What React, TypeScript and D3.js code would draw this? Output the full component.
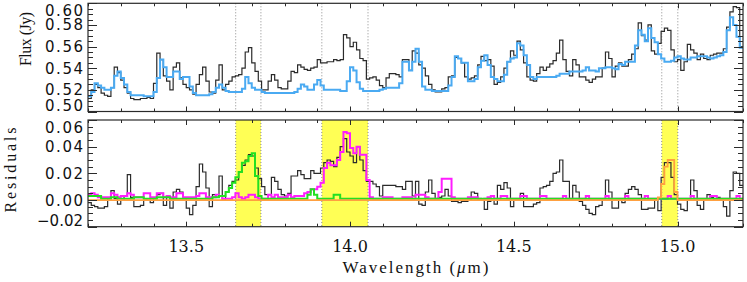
import React from 'react';
import * as d3 from 'd3';

// ---------- data ----------
const BIN_START = 13.2; // μm, left edge of first bin
const BIN_WIDTH = 0.01; // μm
const X_DOMAIN: [number, number] = [13.2, 15.2];
const FLUX_DOMAIN: [number, number] = [0.5, 0.6];
const RES_DOMAIN: [number, number] = [-0.02, 0.06];

const X_TICKS = [13.5, 14.0, 14.5, 15.0];
const X_TICK_LABELS = ['13.5', '14.0', '14.5', '15.0'];
const FLUX_TICKS = [0.5, 0.52, 0.54, 0.56, 0.58, 0.6];
const FLUX_TICK_LABELS = ['0.50', '0.52', '0.54', '0.56', '0.58', '0.60'];
const RES_TICKS = [-0.02, 0, 0.02, 0.04, 0.06];
const RES_TICK_LABELS = ['\u22120.02', '0.00', '0.02', '0.04', '0.06'];

// spectral windows (μm)
const WINDOWS: [number, number][] = [
  [13.651, 13.728],
  [13.914, 14.055],
  [14.952, 15.001],
];

// observed flux (Jy), black histogram
const observedFlux = [
  0.512, 0.520, 0.525, 0.522, 0.517, 0.515, 0.514, 0.522, 0.541, 0.536,
  0.529, 0.522, 0.517, 0.512, 0.511, 0.511, 0.512, 0.512, 0.513, 0.512,
  0.526, 0.554, 0.548, 0.533, 0.528, 0.520, 0.541, 0.545, 0.531, 0.525,
  0.522, 0.520, 0.516, 0.525, 0.534, 0.541, 0.528, 0.518, 0.517, 0.529,
  0.543, 0.520, 0.525, 0.528, 0.532, 0.533, 0.534, 0.540, 0.555, 0.559,
  0.545, 0.537, 0.528, 0.520, 0.520, 0.528, 0.534, 0.529, 0.522, 0.521,
  0.521, 0.528, 0.537, 0.536, 0.543, 0.541, 0.539, 0.538, 0.540, 0.541,
  0.548, 0.545, 0.545, 0.546, 0.546, 0.548, 0.547, 0.548, 0.571, 0.568,
  0.560, 0.564, 0.557, 0.549, 0.547, 0.530, 0.531, 0.532, 0.529, 0.524,
  0.522, 0.531, 0.535, 0.535, 0.534, 0.532, 0.548, 0.548, 0.538, 0.556,
  0.554, 0.543, 0.540, 0.533, 0.525, 0.520, 0.518, 0.518, 0.521, 0.522,
  0.532, 0.533, 0.550, 0.549, 0.545, 0.532, 0.530, 0.531, 0.533, 0.543,
  0.551, 0.547, 0.548, 0.542, 0.525, 0.527, 0.532, 0.540, 0.546, 0.556,
  0.552, 0.565, 0.557, 0.545, 0.532, 0.529, 0.528, 0.535, 0.541, 0.538,
  0.541, 0.544, 0.547, 0.554, 0.566, 0.548, 0.537, 0.533, 0.548, 0.543,
  0.532, 0.532, 0.529, 0.527, 0.530, 0.532, 0.532, 0.540, 0.555, 0.549,
  0.532, 0.542, 0.545, 0.542, 0.542, 0.548, 0.553, 0.558, 0.582, 0.570,
  0.566, 0.580, 0.556, 0.553, 0.563, 0.574, 0.577, 0.575, 0.557, 0.546,
  0.548, 0.538, 0.546, 0.562, 0.557, 0.554, 0.548, 0.553, 0.549, 0.548,
  0.552, 0.553, 0.554, 0.554, 0.558, 0.578, 0.592, 0.597, 0.596, 0.560,
];

// model flux (Jy), blue histogram
const modelFlux = [
  0.514, 0.518, 0.526, 0.524, 0.522, 0.520, 0.520, 0.522, 0.533, 0.537,
  0.531, 0.525, 0.518, 0.515, 0.515, 0.515, 0.515, 0.514, 0.514, 0.514,
  0.518, 0.531, 0.548, 0.541, 0.532, 0.532, 0.537, 0.537, 0.530, 0.532,
  0.532, 0.523, 0.517, 0.515, 0.515, 0.515, 0.515, 0.516, 0.518, 0.522,
  0.525, 0.522, 0.519, 0.518, 0.518, 0.518, 0.518, 0.521, 0.532, 0.526,
  0.522, 0.520, 0.520, 0.518, 0.517, 0.517, 0.517, 0.517, 0.517, 0.517,
  0.517, 0.517, 0.517, 0.518, 0.521, 0.525, 0.523, 0.520, 0.520, 0.525,
  0.529, 0.524, 0.520, 0.520, 0.520, 0.520, 0.520, 0.519, 0.519, 0.528,
  0.541, 0.538, 0.527, 0.521, 0.519, 0.519, 0.519, 0.519, 0.519, 0.520,
  0.521, 0.522, 0.522, 0.522, 0.522, 0.526, 0.546, 0.546, 0.538, 0.546,
  0.558, 0.546, 0.523, 0.520, 0.520, 0.519, 0.519, 0.519, 0.519, 0.519,
  0.524, 0.532, 0.551, 0.549, 0.545, 0.545, 0.528, 0.528, 0.530, 0.541,
  0.547, 0.552, 0.543, 0.532, 0.530, 0.528, 0.528, 0.534, 0.546, 0.549,
  0.550, 0.563, 0.561, 0.552, 0.543, 0.532, 0.530, 0.532, 0.532, 0.532,
  0.532, 0.532, 0.532, 0.533, 0.535, 0.535, 0.535, 0.537, 0.537, 0.537,
  0.537, 0.538, 0.541, 0.538, 0.538, 0.537, 0.540, 0.540, 0.541, 0.541,
  0.540, 0.539, 0.544, 0.543, 0.546, 0.546, 0.546, 0.561, 0.575, 0.571,
  0.565, 0.577, 0.568, 0.564, 0.553, 0.549, 0.546, 0.546, 0.547, 0.550,
  0.551, 0.549, 0.548, 0.548, 0.550, 0.550, 0.551, 0.551, 0.551, 0.550,
  0.549, 0.550, 0.551, 0.552, 0.555, 0.575, 0.587, 0.580, 0.569, 0.559,
];

// residuals (Jy), black histogram
const residual = [
  -0.002, -0.004, -0.005, -0.006, -0.006, -0.005, 0.001, 0.007, 0.001, -0.003,
  0.000, 0.003, 0.019, 0.002, -0.005, -0.005, -0.004, 0.000, 0.001, -0.002,
  0.001, 0.004, 0.005, -0.004, 0.002, -0.006, 0.006, 0.008, 0.006, 0.001,
  -0.006, -0.011, -0.004, 0.010, 0.027, 0.021, 0.009, -0.005, 0.004, 0.002,
  0.018, 0.000, 0.006, 0.011, 0.014, 0.015, 0.021, 0.026, 0.030, 0.034,
  0.033, 0.024, 0.016, 0.010, 0.004, 0.004, 0.017, 0.014, 0.008, 0.004,
  0.003, 0.005, 0.018, 0.018, 0.022, 0.019, 0.016, 0.016, 0.022, 0.020,
  0.020, 0.024, 0.028, 0.030, 0.029, 0.025, 0.032, 0.040, 0.046, 0.036,
  0.033, 0.028, 0.040, 0.030, 0.022, 0.014, 0.014, 0.012, 0.010, 0.003,
  0.011, 0.011, 0.011, 0.011, 0.010, 0.010, 0.008, 0.014, 0.014, 0.003,
  0.014, -0.003, -0.004, 0.006, 0.015, 0.005, 0.001, 0.002, 0.003, 0.008,
  0.003, -0.001, -0.001, -0.002, -0.001, -0.001, 0.000, 0.006, 0.005, 0.001,
  0.000, -0.007, -0.001, 0.000, -0.003, 0.011, 0.008, 0.013, 0.009, -0.005,
  0.000, 0.000, 0.005, -0.005, -0.005, -0.005, -0.003, -0.002, 0.009, 0.010,
  0.011, 0.014, 0.020, 0.021, 0.030, 0.014, 0.014, 0.001, 0.011, 0.006,
  -0.001, -0.004, -0.007, -0.010, -0.011, -0.005, -0.004, 0.001, 0.015, 0.006,
  -0.006, -0.006, 0.000, -0.002, 0.005, 0.008, 0.010, 0.008, 0.004, -0.007,
  -0.007, -0.006, -0.006, 0.001, -0.008, 0.017, 0.028, 0.028, 0.017, 0.004,
  -0.003, -0.007, -0.008, 0.001, 0.015, 0.007, -0.004, -0.007, 0.000, 0.004,
  0.002, 0.000, 0.002, 0.001, -0.005, -0.012, 0.007, 0.021, 0.020, 0.011,
];

// model component A (green)
const componentA = [
  0.003, 0.003, 0.003, 0.003, 0.001, 0.001, 0.001, 0.002, 0.002, 0.001,
  0.001, 0.001, 0.001, 0.001, 0.002, 0.002, 0.002, 0.001, 0.001, 0.001,
  0.001, 0.002, 0.002, 0.002, 0.002, 0.001, 0.001, 0.001, 0.001, 0.001,
  0.001, 0.001, 0.001, 0.001, 0.001, 0.001, 0.001, 0.001, 0.002, 0.002,
  0.003, 0.003, 0.006, 0.009, 0.013, 0.017, 0.021, 0.028, 0.029, 0.033,
  0.035, 0.018, 0.003, 0.001, 0.001, 0.001, 0.001, 0.001, 0.001, 0.001,
  0.001, 0.001, 0.001, 0.001, 0.001, 0.001, 0.001, 0.004, 0.008, 0.004,
  0.001, 0.001, 0.001, 0.001, 0.001, 0.004, 0.004, 0.001, 0.001, 0.001,
  0.001, 0.001, 0.001, 0.001, 0.001, 0.001, 0.001, 0.001, 0.001, 0.001,
  0.001, 0.001, 0.001, 0.001, 0.001, 0.001, 0.001, 0.001, 0.001, 0.001,
  0.001, 0.001, 0.001, 0.001, 0.001, 0.001, 0.001, 0.001, 0.001, 0.001,
  0.001, 0.001, 0.001, 0.001, 0.001, 0.001, 0.001, 0.001, 0.001, 0.001,
  0.001, 0.001, 0.001, 0.001, 0.001, 0.001, 0.001, 0.001, 0.001, 0.001,
  0.001, 0.001, 0.001, 0.001, 0.001, 0.001, 0.001, 0.001, 0.001, 0.001,
  0.001, 0.001, 0.001, 0.001, 0.001, 0.001, 0.001, 0.001, 0.001, 0.001,
  0.001, 0.001, 0.001, 0.001, 0.001, 0.001, 0.001, 0.001, 0.001, 0.001,
  0.001, 0.001, 0.001, 0.001, 0.001, 0.001, 0.001, 0.001, 0.001, 0.001,
  0.001, 0.001, 0.001, 0.001, 0.001, 0.001, 0.001, 0.001, 0.001, 0.001,
  0.001, 0.001, 0.001, 0.001, 0.001, 0.001, 0.001, 0.001, 0.001, 0.001,
  0.001, 0.001, 0.001, 0.001, 0.001, 0.001, 0.001, 0.001, 0.001, 0.001,
];

// model component B (magenta)
const componentB = [
  0.004, 0.005, 0.004, 0.002, 0.002, 0.002, 0.002, 0.005, 0.004, 0.002,
  0.003, 0.003, 0.005, 0.004, 0.002, 0.002, 0.002, 0.005, 0.005, 0.002,
  0.002, 0.005, 0.005, 0.002, 0.003, 0.002, 0.002, 0.005, 0.005, 0.002,
  0.002, 0.002, 0.002, 0.003, 0.005, 0.005, 0.002, 0.002, 0.002, 0.004,
  0.003, 0.001, 0.001, 0.001, 0.002, 0.005, 0.002, 0.001, 0.002, 0.004,
  0.004, 0.002, 0.001, 0.001, 0.001, 0.004, 0.002, 0.004, 0.002, 0.002,
  0.002, 0.004, 0.002, 0.003, 0.003, 0.003, 0.005, 0.006, 0.008, 0.008,
  0.010, 0.013, 0.024, 0.028, 0.026, 0.026, 0.030, 0.036, 0.051, 0.050,
  0.039, 0.035, 0.040, 0.034, 0.034, 0.015, 0.002, 0.001, 0.001, 0.001,
  0.002, 0.002, 0.002, 0.001, 0.001, 0.001, 0.002, 0.002, 0.002, 0.001,
  0.004, 0.004, 0.004, 0.002, 0.001, 0.001, 0.001, 0.006, 0.016, 0.016,
  0.016, 0.002, 0.001, 0.001, 0.001, 0.001, 0.002, 0.002, 0.002, 0.001,
  0.000, 0.001, 0.002, 0.003, 0.001, 0.001, 0.003, 0.003, 0.001, 0.001,
  0.001, 0.001, 0.003, 0.003, 0.001, 0.001, 0.001, 0.001, 0.003, 0.003,
  0.001, 0.001, 0.001, 0.001, 0.001, 0.003, 0.001, 0.001, 0.001, 0.001,
  0.001, 0.001, 0.003, 0.001, 0.001, 0.001, 0.001, 0.001, 0.003, 0.001,
  0.001, 0.001, 0.001, 0.001, 0.003, 0.001, 0.001, 0.001, 0.001, 0.001,
  0.003, 0.001, 0.001, 0.001, 0.001, 0.001, 0.001, 0.003, 0.001, 0.001,
  0.001, 0.001, 0.001, 0.001, 0.003, 0.001, 0.001, 0.001, 0.001, 0.001,
  0.003, 0.003, 0.001, 0.001, 0.001, 0.001, 0.001, 0.001, 0.003, 0.001,
];

// model component C (orange)
const componentC = [
  0, 0, 0, 0, 0, 0, 0, 0, 0, 0,
  0, 0, 0, 0, 0, 0, 0, 0, 0, 0,
  0, 0, 0, 0, 0, 0, 0, 0, 0, 0,
  0, 0, 0, 0, 0, 0, 0, 0, 0, 0,
  0, 0, 0, 0, 0, 0, 0, 0, 0, 0,
  0, 0, 0, 0, 0, 0, 0, 0, 0, 0,
  0, 0, 0, 0, 0, 0, 0, 0, 0, 0,
  0, 0, 0, 0, 0, 0, 0, 0, 0, 0,
  0, 0, 0, 0, 0, 0, 0, 0, 0, 0,
  0, 0, 0, 0, 0, 0, 0, 0, 0, 0,
  0, 0, 0, 0, 0, 0, 0, 0, 0, 0,
  0, 0, 0, 0, 0, 0, 0, 0, 0, 0,
  0, 0, 0, 0, 0, 0, 0, 0, 0, 0,
  0, 0, 0, 0, 0, 0, 0, 0, 0, 0,
  0, 0, 0, 0, 0, 0, 0, 0, 0, 0,
  0, 0, 0, 0, 0, 0, 0, 0, 0, 0,
  0, 0, 0, 0, 0, 0, 0, 0, 0, 0,
  0, 0, 0, 0, 0.002, 0.012, 0.025, 0.030, 0.030, 0.006,
  0, 0, 0, 0, 0, 0, 0, 0, 0, 0,
  0, 0, 0, 0, 0, 0, 0, 0, 0, 0,
];

// ---------- layout ----------
const W = 747;
const H = 282;
const PL = 88;
const PR = 743;
const TOP = { y0: 3.3, y1: 111.5 };
const BOT = { y0: 120, y1: 226.7 };

const AXIS_COLOR = '#2a2a2a';

export default function App() {
  const x = d3.scaleLinear().domain(X_DOMAIN).range([PL, PR]);
  const yF = d3.scaleLinear().domain(FLUX_DOMAIN).range([TOP.y1, TOP.y0]);
  const yR = d3.scaleLinear().domain(RES_DOMAIN).range([BOT.y1, BOT.y0]);

  const stepPath = (vals: number[], y: d3.ScaleLinear<number, number>) => {
    const pts: [number, number][] = vals.map((v, i) => [BIN_START + i * BIN_WIDTH, v]);
    pts.push([BIN_START + vals.length * BIN_WIDTH, vals[vals.length - 1]]);
    return (
      d3
        .line<[number, number]>()
        .x((d) => x(d[0]))
        .y((d) => y(d[1]))
        .curve(d3.curveStepAfter)(pts) || ''
    );
  };

  // x ticks every 0.1, major every 0.5
  const xMinor = d3.range(132, 153).map((k) => ({ v: k / 10, major: k % 5 === 0 }));
  const fMinor = d3.range(100, 121).map((k) => ({ v: k * 0.005, major: k % 4 === 0 }));
  const rMinor = d3.range(-4, 13).map((k) => ({ v: k * 0.005, major: (k + 4) % 4 === 0 }));

  const panelTicks = (
    y: d3.ScaleLinear<number, number>,
    yTicks: { v: number; major: boolean }[],
    p: { y0: number; y1: number },
    key: string
  ) => (
    <g key={key} stroke={AXIS_COLOR} strokeWidth={1}>
      {xMinor.map((t, i) => {
        const xx = Math.round(x(t.v)) + 0.5;
        const len = t.major ? 5 : 3;
        return (
          <g key={'x' + i}>
            <line x1={xx} x2={xx} y1={p.y1} y2={p.y1 - len} />
            <line x1={xx} x2={xx} y1={p.y0} y2={p.y0 + len} />
          </g>
        );
      })}
      {yTicks.map((t, i) => {
        const yy = Math.round(y(t.v)) + 0.5;
        const len = t.major ? 9 : 5;
        return (
          <g key={'y' + i}>
            <line x1={PL} x2={PL + len} y1={yy} y2={yy} />
            <line x1={PR} x2={PR - len} y1={yy} y2={yy} />
          </g>
        );
      })}
    </g>
  );

  const clampLabel = (yy: number, p: { y0: number; y1: number }) =>
    Math.max(p.y0 + 7, Math.min(p.y1 - 6, yy));

  return (
    <svg
      width={W}
      height={H}
      viewBox={`0 0 ${W} ${H}`}
      style={{ position: 'absolute', left: 0, top: 0, background: '#fff' }}
    >
      <defs>
        <clipPath id="clipTop">
          <rect x={PL} y={TOP.y0} width={PR - PL} height={TOP.y1 - TOP.y0} />
        </clipPath>
        <clipPath id="clipBot">
          <rect x={PL} y={BOT.y0} width={PR - PL} height={BOT.y1 - BOT.y0} />
        </clipPath>
      </defs>
      <rect x={0} y={0} width={W} height={H} fill="#fff" />

      {/* bottom panel yellow windows */}
      {WINDOWS.map((w, i) => (
        <rect
          key={'win' + i}
          x={x(w[0])}
          y={BOT.y0}
          width={x(w[1]) - x(w[0])}
          height={BOT.y1 - BOT.y0}
          fill="#ffff55"
        />
      ))}
      {/* dotted window edges */}
      {WINDOWS.flatMap((w, i) =>
        w.map((edge, j) => (
          <g key={'edge' + i + '-' + j} stroke="#8a8a8a" strokeWidth={1} strokeDasharray="1,2">
            <line x1={x(edge)} x2={x(edge)} y1={TOP.y0} y2={TOP.y1} />
            <line x1={x(edge)} x2={x(edge)} y1={BOT.y0} y2={BOT.y1} />
          </g>
        ))
      )}

      {/* top panel series */}
      <g clipPath="url(#clipTop)" fill="none">
        <path d={stepPath(observedFlux, yF)} stroke="#2b2b2b" strokeWidth={1.2} />
        <path d={stepPath(modelFlux, yF)} stroke="#4aaaf2" strokeWidth={2} />
      </g>

      {/* bottom panel series */}
      <g clipPath="url(#clipBot)" fill="none">
        <path d={stepPath(residual, yR)} stroke="#2b2b2b" strokeWidth={1.2} />
        <path d={stepPath(componentB, yR)} stroke="#ff1cff" strokeWidth={2} />
        <path d={stepPath(componentA, yR)} stroke="#22e022" strokeWidth={2} />
        <path d={stepPath(componentC, yR)} stroke="#ffa040" strokeWidth={1.8} />
      </g>

      {/* frames */}
      <rect x={PL} y={TOP.y0} width={PR - PL} height={TOP.y1 - TOP.y0} fill="none" stroke={AXIS_COLOR} strokeWidth={1.2} />
      <rect x={PL} y={BOT.y0} width={PR - PL} height={BOT.y1 - BOT.y0} fill="none" stroke={AXIS_COLOR} strokeWidth={1.2} />

      {panelTicks(yF, fMinor, TOP, 'tt')}
      {panelTicks(yR, rMinor, BOT, 'bt')}

      {/* y tick labels */}
      <g fontFamily="'DejaVu Sans', sans-serif" fontSize={15} fill="#111" textAnchor="end">
        {FLUX_TICKS.map((v, i) => (
          <text
            key={'fl' + i}
            x={83}
            y={clampLabel(yF(v), TOP) + 5.5}
            textLength={38}
            lengthAdjust="spacing"
          >
            {FLUX_TICK_LABELS[i]}
          </text>
        ))}
        {RES_TICKS.map((v, i) => (
          <text
            key={'rl' + i}
            x={83}
            y={clampLabel(yR(v), BOT) + 5.5}
            textLength={RES_TICK_LABELS[i].length > 4 ? 46 : 38}
            lengthAdjust="spacing"
          >
            {RES_TICK_LABELS[i]}
          </text>
        ))}
      </g>

      {/* x tick labels */}
      <g fontFamily="'DejaVu Serif', serif" fontSize={16} fill="#111" textAnchor="middle">
        {X_TICKS.map((v, i) => (
          <text key={'xl' + i} x={x(v)} y={252}>
            {X_TICK_LABELS[i]}
          </text>
        ))}
      </g>

      {/* axis titles */}
      <g fontFamily="'Liberation Serif', serif" fontSize={16} fill="#111" textAnchor="middle">
        <text
          transform={`translate(31,39) rotate(-90)`}
          textLength={54}
          lengthAdjust="spacing"
        >
          Flux (Jy)
        </text>
        <text
          transform={`translate(16,170) rotate(-90)`}
          textLength={85}
          lengthAdjust="spacing"
        >
          Residuals
        </text>
        <text x={(PL + PR) / 2} y={273} textLength={146} lengthAdjust="spacing" fontSize={17}>
          Wavelength (<tspan fontStyle="italic">μ</tspan>m)
        </text>
      </g>
    </svg>
  );
}
